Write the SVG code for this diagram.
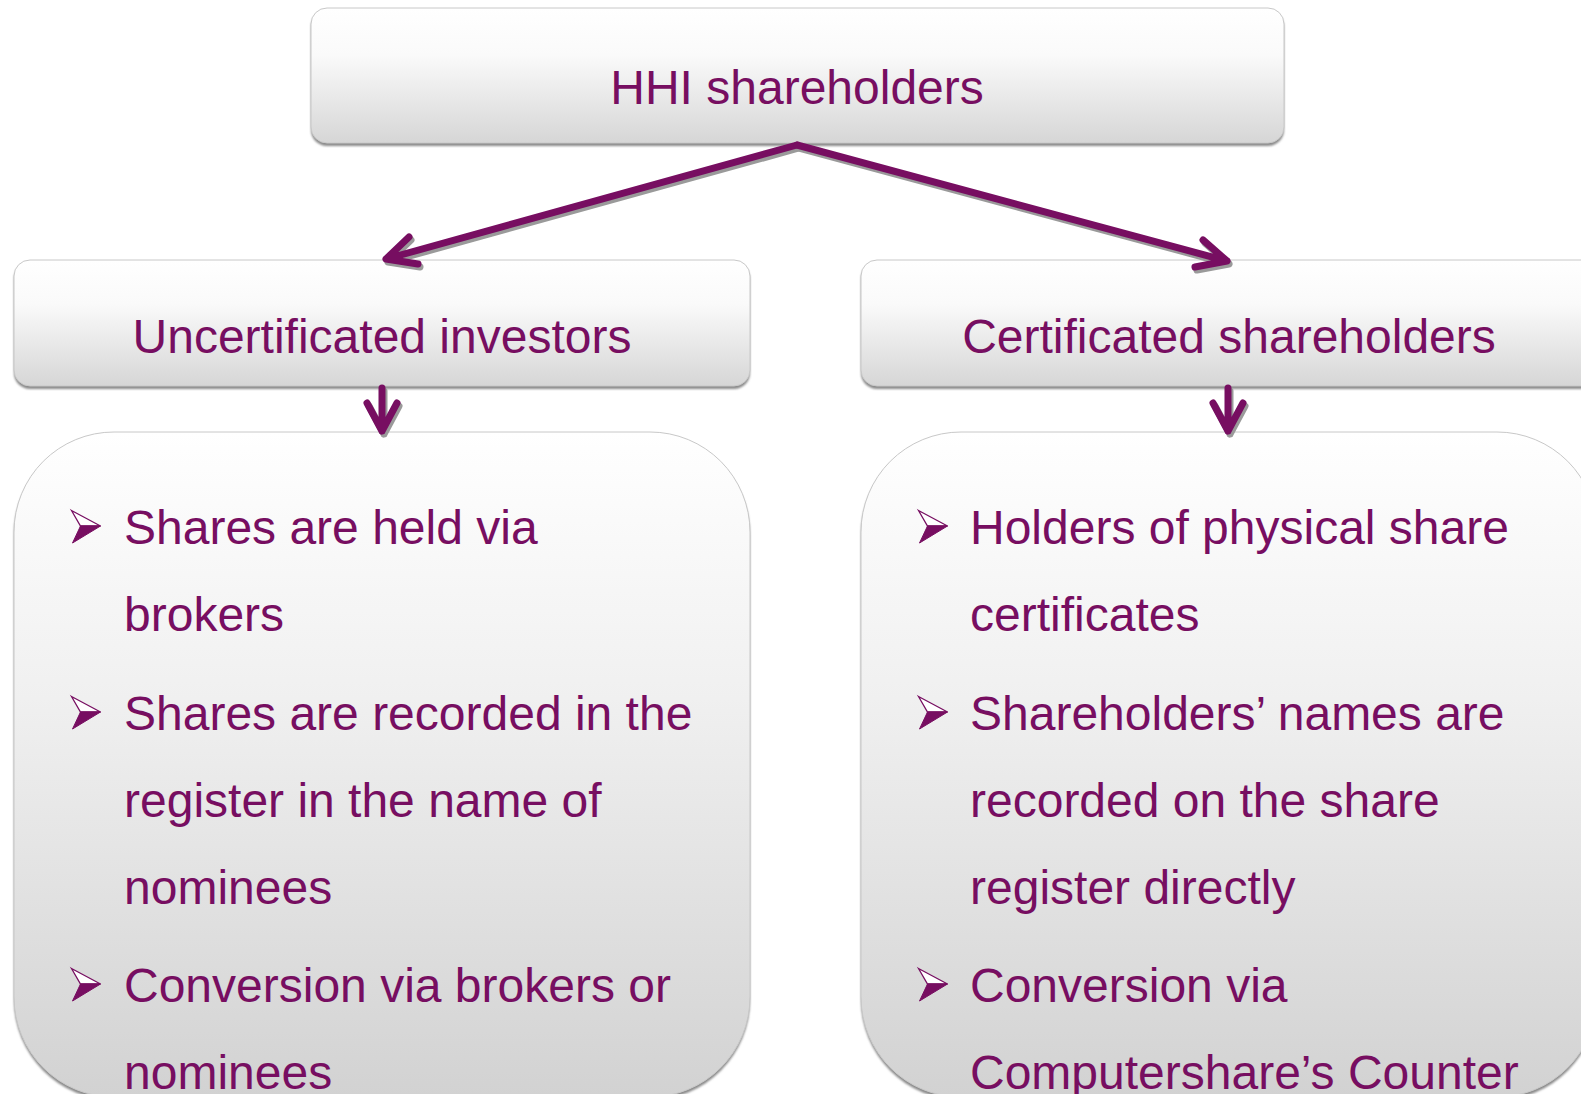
<svg xmlns="http://www.w3.org/2000/svg" width="1581" height="1094" viewBox="0 0 1581 1094">
<style>
.t{font-family:"Liberation Sans",Arial,sans-serif;font-size:48px;fill:#770E61}
.h{text-anchor:middle}
.conn{fill:none;stroke:#770E61;stroke-width:7;stroke-linecap:round;stroke-linejoin:round}
.sh{fill:none;stroke:#9a9a9a;stroke-width:7;stroke-linecap:round;stroke-linejoin:round}
.box{stroke:#c8c8c8;stroke-width:1}
.bshadow{fill:#8a8a8a;filter:url(#blur)}
</style>
<defs>
<linearGradient id="gHead" x1="0" y1="0" x2="0" y2="1">
<stop offset="0" stop-color="#ffffff"/>
<stop offset="0.35" stop-color="#fafafa"/>
<stop offset="1" stop-color="#d6d6d6"/>
</linearGradient>
<linearGradient id="gBody" x1="0" y1="0" x2="0" y2="1">
<stop offset="0" stop-color="#ffffff"/>
<stop offset="0.4" stop-color="#f0f0f0"/>
<stop offset="1" stop-color="#d2d2d2"/>
</linearGradient>
<filter id="blur" x="-5%" y="-5%" width="110%" height="110%"><feGaussianBlur stdDeviation="1.2"/></filter>
<g id="bullet">
<path d="M0,0 L29,15.5 L9,15.5 Z" fill="#ffffff" stroke="#770E61" stroke-width="1.3" stroke-linejoin="miter"/>
<path d="M9,15.5 L29,15.5 L1,32.5 Z" fill="#770E61" stroke="#770E61" stroke-width="1"/>
</g>
</defs>

<g id="node-hhi">
<rect class="bshadow" x="311" y="11" width="973" height="135" rx="16"/>
<rect class="box" x="311" y="8" width="973" height="135" rx="16" fill="url(#gHead)"/>
<text class="t h" x="797" y="104">HHI shareholders</text>
</g>

<g id="node-uncert">
<rect class="bshadow" x="14" y="263" width="736" height="126" rx="16"/>
<rect class="box" x="14" y="260" width="736" height="126" rx="16" fill="url(#gHead)"/>
<text class="t h" x="382" y="353">Uncertificated investors</text>
</g>

<g id="node-cert">
<rect class="bshadow" x="861" y="263" width="736" height="126" rx="16"/>
<rect class="box" x="861" y="260" width="736" height="126" rx="16" fill="url(#gHead)"/>
<text class="t h" x="1229" y="353">Certificated shareholders</text>
</g>

<g id="node-uncert-details">
<rect class="bshadow" x="14" y="435" width="736" height="665" rx="100"/>
<rect class="box" x="14" y="432" width="736" height="665" rx="100" fill="url(#gBody)" stroke="#dedede"/>
<use href="#bullet" x="71.5" y="510.5"/>
<use href="#bullet" x="71.5" y="696.5"/>
<use href="#bullet" x="71.5" y="968.5"/>
<text class="t" x="124" y="544">Shares are held via</text>
<text class="t" x="124" y="631">brokers</text>
<text class="t" x="124" y="730">Shares are recorded in the</text>
<text class="t" x="124" y="817">register in the name of</text>
<text class="t" x="124" y="904">nominees</text>
<text class="t" x="124" y="1002">Conversion via brokers or</text>
<text class="t" x="124" y="1089">nominees</text>
</g>

<g id="node-cert-details">
<rect class="bshadow" x="861" y="435" width="736" height="665" rx="100"/>
<rect class="box" x="861" y="432" width="736" height="665" rx="100" fill="url(#gBody)" stroke="#dedede"/>
<use href="#bullet" x="918.5" y="510.5"/>
<use href="#bullet" x="918.5" y="696.5"/>
<use href="#bullet" x="918.5" y="968.5"/>
<text class="t" x="970" y="544">Holders of physical share</text>
<text class="t" x="970" y="631">certificates</text>
<text class="t" x="970" y="730">Shareholders’ names are</text>
<text class="t" x="970" y="817">recorded on the share</text>
<text class="t" x="970" y="904">register directly</text>
<text class="t" x="970" y="1002">Conversion via</text>
<text class="t" x="970" y="1089">Computershare’s Counter</text>
</g>

<g id="connectors">
<g transform="translate(2,3)">
<path class="sh" d="M797,145 L386,259 M409,237 L386,259 L418,264"/>
<path class="sh" d="M797,145 L1227,261 M1203,240 L1227,261 L1195,267"/>
<path class="sh" d="M382,388 L382,431 M367,403 L382,431 L397,403"/>
<path class="sh" d="M1228,388 L1228,431 M1213,403 L1228,431 L1243,403"/>
</g>
<path class="conn" d="M797,145 L386,259 M409,237 L386,259 L418,264"/>
<path class="conn" d="M797,145 L1227,261 M1203,240 L1227,261 L1195,267"/>
<path class="conn" d="M382,388 L382,431 M367,403 L382,431 L397,403" stroke-width="8"/>
<path class="conn" d="M1228,388 L1228,431 M1213,403 L1228,431 L1243,403" stroke-width="8"/>
</g>
</svg>
